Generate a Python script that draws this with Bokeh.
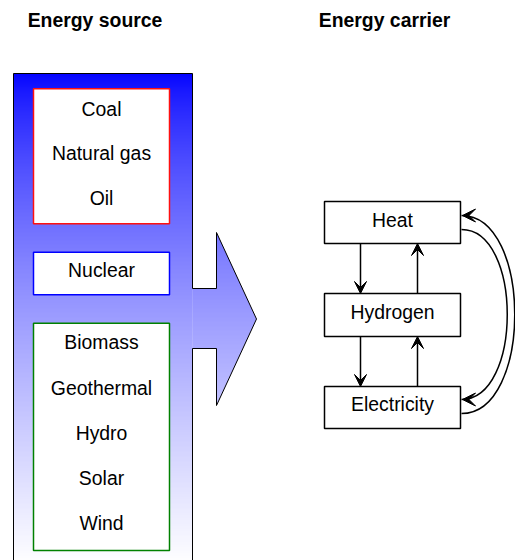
import numpy as np
from bokeh.plotting import figure
from bokeh.models import Range1d, Arrow, VeeHead
from bokeh.embed import file_html
from bokeh.resources import INLINE
from bokeh.core.properties import value

# ---- data (labels) ----
titles = ["Energy source", "Energy carrier"]
fossil = ["Coal", "Natural gas", "Oil"]
nuclear = ["Nuclear"]
renewable = ["Biomass", "Geothermal", "Hydro", "Solar", "Wind"]
carriers = ["Heat", "Hydrogen", "Electricity"]

FONT = value("Liberation Sans")
FS = "19.4px"
TOFF = -8  # text baseline correction

W, H = 515, 560
p = figure(width=W, height=H, x_range=Range1d(0, W), y_range=Range1d(H, 0),
           output_backend="svg", toolbar_location=None, min_border=0,
           x_axis_location=None, y_axis_location=None)
p.grid.visible = False
p.outline_line_color = None
p.background_fill_color = "white"
p.border_fill_color = "white"

# ---- big gradient shape ----
X0, X1, TOP = 13, 192, 73
NOTCH_R, TIP_X = 216, 256
A_TOP, A_BOT, TIP_Y = 232, 405, 318.5
N_TOP, N_BOT = 288, 348
G_END = 565.0


def shade(y):
    f = min(max((y - TOP) / (G_END - TOP), 0.0), 1.0)
    v = int(round(255 * f ** 0.7))
    return "#%02x%02x%02x" % (v, v, 255)


ys = np.arange(TOP, 561, 1.0)
p.quad(left=[X0] * len(ys), right=[X1] * len(ys), top=list(ys), bottom=list(ys + 1.5),
       fill_color=[shade(y + 0.5) for y in ys], line_color=None)

axs, ays, acol = [], [], []
for y in np.arange(A_TOP, A_BOT, 1.0):
    y2 = min(y + 1.5, A_BOT)

    def rx(yy):
        return NOTCH_R + (TIP_X - NOTCH_R) * (1 - abs(yy - TIP_Y) / (TIP_Y - A_TOP))

    ym = y + 0.5
    left = X1 if (N_TOP <= ym <= N_BOT) else NOTCH_R
    if y < TIP_Y < y2:
        xs_ = [left, rx(y), TIP_X, rx(y2), left]
        ys_ = [y, y, TIP_Y, y2, y2]
    else:
        xs_ = [left, rx(y), rx(y2), left]
        ys_ = [y, y, y2, y2]
    axs.append(xs_)
    ays.append(ys_)
    acol.append(shade(ym))
p.patches(axs, ays, fill_color=acol, line_color=None)

p.line([X0, X0, X1, X1, NOTCH_R, NOTCH_R, TIP_X, NOTCH_R, NOTCH_R, X1, X1],
       [600, TOP, TOP, N_TOP, N_TOP, A_TOP, TIP_Y, A_BOT, N_BOT, N_BOT, 600],
       line_color="black", line_width=1)

# ---- source boxes ----
BL, BR = 33, 169
p.quad(left=[BL], right=[BR], top=[88.3], bottom=[223.3], fill_color="white",
       line_color="#ff1010", line_width=1.5)
p.quad(left=[BL], right=[BR], top=[251.7], bottom=[294.3], fill_color="white",
       line_color="#0000ff", line_width=1.5)
p.quad(left=[BL], right=[BR], top=[322.7], bottom=[550], fill_color="white",
       line_color="#008000", line_width=1.5)

src_labels = fossil + nuclear + renewable
src_base = [116, 160.8, 205.5, 277.3, 349.5, 395, 440, 485, 530]
p.text(x=[(BL + BR) / 2] * len(src_labels), y=[b + TOFF for b in src_base], text=src_labels,
       text_align="center", text_baseline="alphabetic", text_font=FONT,
       text_font_size=FS, text_color="black")

# ---- titles ----
p.text(x=[94.5, 384], y=[27.7 + TOFF, 27.7 + TOFF], text=titles, text_align="center",
       text_baseline="alphabetic", text_font=FONT, text_font_size=FS,
       text_font_style="bold", text_color="black")

# ---- carrier boxes ----
CL, CR = 324, 460
c_top = [201, 293, 386]
c_bot = [243, 336, 428]
p.quad(left=[CL] * 3, right=[CR] * 3, top=c_top, bottom=c_bot, fill_color="white",
       line_color="black", line_width=1.5)
p.text(x=[(CL + CR) / 2] * 3, y=[227.7 + TOFF, 319.3 + TOFF, 411.7 + TOFF], text=carriers,
       text_align="center", text_baseline="alphabetic", text_font=FONT,
       text_font_size=FS, text_color="black")


def head(s=12):
    return VeeHead(size=s, fill_color="black", line_color="black", line_width=1)


DX, UX = 360, 417
for i in range(2):
    p.add_layout(Arrow(end=head(), x_start=DX, y_start=c_bot[i], x_end=DX, y_end=c_top[i + 1],
                       line_color="black", line_width=1.5))
    p.add_layout(Arrow(end=head(), x_start=UX, y_start=c_top[i + 1], x_end=UX, y_end=c_bot[i],
                       line_color="black", line_width=1.5))

# ---- curved arrows on the right ----
ER = 461
p.bezier(x0=[ER, ER], y0=[413, 229], x1=[ER, ER], y1=[215, 399],
         cx0=[532, 522], cy0=[413, 229], cx1=[532, 522], cy1=[215, 399],
         line_color="black", line_width=1.5)
p.add_layout(Arrow(end=head(13), x_start=ER + 8, y_start=215, x_end=ER + 1, y_end=215,
                   line_color="black", line_width=1.5))
p.add_layout(Arrow(end=head(13), x_start=ER + 8, y_start=399, x_end=ER + 1, y_end=399,
                   line_color="black", line_width=1.5))

open("out.html", "w").write(file_html(p, INLINE))
